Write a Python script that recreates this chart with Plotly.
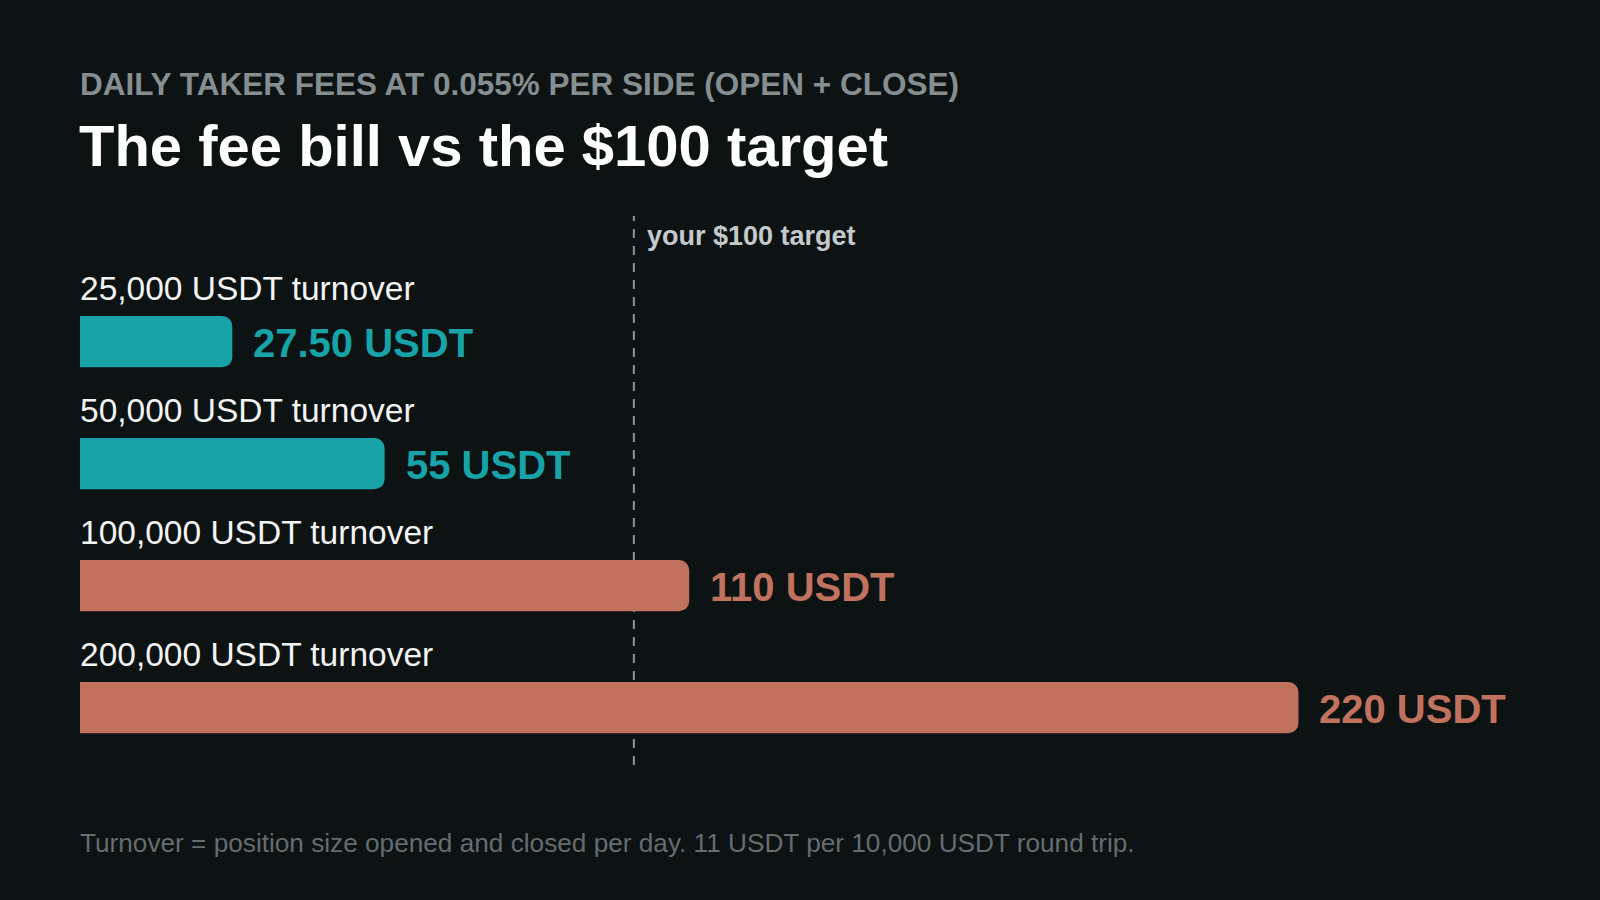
import plotly.graph_objects as go

turnover_labels = ["25,000 USDT turnover", "50,000 USDT turnover", "100,000 USDT turnover", "200,000 USDT turnover"]
fees = [27.5, 55, 110, 220]
fee_labels = ["27.50 USDT", "55 USDT", "110 USDT", "220 USDT"]
target = 100

TEAL = "#17a3a8"
CORAL = "#c1725f"
BG = "#0d1213"
colors = [TEAL if f < target else CORAL for f in fees]
ypos = list(range(len(fees)))

fig = go.Figure()
fig.add_trace(go.Bar(
    x=fees, y=ypos, orientation="h", width=0.42,
    marker=dict(color=colors, line=dict(width=0)),
    hoverinfo="skip", showlegend=False,
))

FONT = "Liberation Sans, Arial, sans-serif"
ann = []
for i, (lab, f, fl, c) in enumerate(zip(turnover_labels, fees, fee_labels, colors)):
    ann.append(dict(x=0, y=i, xref="x", yref="y", text=lab, showarrow=False,
                    xanchor="left", yanchor="middle", yshift=53, xshift=-2,
                    font=dict(family=FONT, size=33.5, color="#f2f4f4")))
    ann.append(dict(x=f, y=i, xref="x", yref="y", text="<b>" + fl + "</b>", showarrow=False,
                    xanchor="left", yanchor="middle", xshift=19, yshift=-1,
                    font=dict(family=FONT, size=40, color=c)))

ann.append(dict(x=target, y=1, xref="x", yref="paper", text="<b>your $100 target</b>", showarrow=False,
                xanchor="left", yanchor="middle", xshift=11, yshift=-20,
                font=dict(family=FONT, size=27, color="#c4cacb")))
ann.append(dict(x=0, y=(765 - 84) / 549, xref="paper", yref="paper",
                text="<b>DAILY TAKER FEES AT 0.055% PER SIDE (OPEN + CLOSE)</b>", showarrow=False,
                xanchor="left", yanchor="middle", xshift=-2,
                font=dict(family=FONT, size=31.5, color="#858e90")))
ann.append(dict(x=0, y=(765 - 145) / 549, xref="paper", yref="paper",
                text="<b>The fee bill vs the $100 target</b>", showarrow=False,
                xanchor="left", yanchor="middle", xshift=-3,
                font=dict(family=FONT, size=58, color="#ffffff")))
ann.append(dict(x=0, y=(765 - 843) / 549, xref="paper", yref="paper",
                text="Turnover = position size opened and closed per day. 11 USDT per 10,000 USDT round trip.",
                showarrow=False, xanchor="left", yanchor="middle", xshift=-2,
                font=dict(family=FONT, size=26.2, color="#646d6f")))

fig.update_layout(
    width=1600, height=900,
    paper_bgcolor=BG, plot_bgcolor=BG,
    margin=dict(l=80, r=80, t=216, b=135, pad=0),
    barcornerradius=10,
    xaxis=dict(range=[0, 260], showgrid=False, zeroline=False, showticklabels=False, showline=False, fixedrange=True),
    yaxis=dict(range=[3.47, -1.03], showgrid=False, zeroline=False, showticklabels=False, showline=False, fixedrange=True),
    annotations=ann,
    shapes=[dict(type="line", x0=target, x1=target, y0=0, y1=1, xref="x", yref="paper",
                 line=dict(color="#8c9496", width=2, dash="9px,8px"), layer="below")],
)

fig.write_html("out.html")
